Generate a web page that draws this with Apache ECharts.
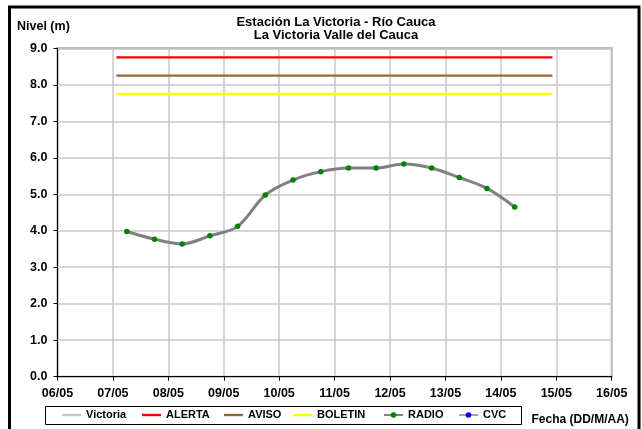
<!DOCTYPE html>
<html>
<head>
<meta charset="utf-8">
<script src="https://cdn.jsdelivr.net/npm/echarts@6/dist/echarts.min.js"></script>
<style>
html,body{margin:0;padding:0;background:#fff;}
#chart{width:642px;height:429px;}
</style>
</head>
<body>
<div id="chart"></div>
<script>
// ---- data ----
const titleLines = ["Estación La Victoria - Río Cauca", "La Victoria Valle del Cauca"];
const yAxisTitle = "Nivel (m)";
const xAxisTitle = "Fecha (DD/M/AA)";
const xTickLabels = ["06/05","07/05","08/05","09/05","10/05","11/05","12/05","13/05","14/05","15/05","16/05"];
const radioTimes = ["07/05 06:00","07/05 18:00","08/05 06:00","08/05 18:00","09/05 06:00","09/05 18:00",
  "10/05 06:00","10/05 18:00","11/05 06:00","11/05 18:00","12/05 06:00","12/05 18:00",
  "13/05 06:00","13/05 18:00","14/05 06:00"];
const radioLevels = [3.98,3.77,3.64,3.86,4.12,4.98,5.39,5.62,5.72,5.72,5.83,5.72,5.46,5.16,4.65];
const thresholdTimes = ["07/05 01:30","14/05 22:20"];
const alertaLevels = [8.75,8.75];
const avisoLevels = [8.25,8.25];
const boletinLevels = [7.75,7.75];
const yTicks = [0,1,2,3,4,5,6,7,8,9];

// convert "DD/MM HH:MM" into days after the first tick label
function dayOffset(s){
  const [d, t] = s.split(" ");
  const day = parseInt(d.split("/")[0], 10);
  const [h, m] = t.split(":").map(Number);
  const base = parseInt(xTickLabels[0].split("/")[0], 10);
  return day - base + (h + m/60)/24;
}
const pair = (times, vals) => times.map((t,i)=>[dayOffset(t), vals[i]]);

const FONT = "'Liberation Sans', Arial, sans-serif";
const chart = echarts.init(document.getElementById('chart'), null, {renderer:'canvas'});

const legendDefs = [
  {name:"Victoria", left:62, marker:false},
  {name:"ALERTA", left:142, marker:false},
  {name:"AVISO", left:224, marker:false},
  {name:"BOLETIN", left:293, marker:false},
  {name:"RADIO", left:383, marker:true},
  {name:"CVC", left:458, marker:true}
];

chart.setOption({
  backgroundColor:'#fff',
  animation:false,
  graphic:[
    {type:'rect', shape:{x:9.5,y:7,width:629.5,height:440}, style:{fill:null, stroke:'#000', lineWidth:3}, silent:true},
    {type:'rect', shape:{x:45.5,y:406.5,width:476,height:18}, style:{fill:null, stroke:'#000', lineWidth:1}, silent:true},
    {type:'text', x:336, y:22.7, style:{text:titleLines[0], textAlign:'center', textVerticalAlign:'middle',
      font:"bold 13px 'Liberation Sans', Arial", fill:'#000'}},
    {type:'text', x:336, y:35.3, style:{text:titleLines[1], textAlign:'center', textVerticalAlign:'middle',
      font:"bold 13px 'Liberation Sans', Arial", fill:'#000'}},
    {type:'text', x:17, y:27, style:{text:yAxisTitle, textVerticalAlign:'middle', font:"bold 12.5px 'Liberation Sans', Arial", fill:'#000'}},
    {type:'text', x:531.5, y:420, style:{text:xAxisTitle, textVerticalAlign:'middle', font:"bold 12px 'Liberation Sans', Arial", fill:'#000'}}
  ],
  legend: legendDefs.map(l => ({
    data: l.marker ? [l.name] : [{name:l.name, icon:'rect'}],
    left:l.left, top:409.5, padding:0, itemWidth:19, itemHeight: l.marker ? 7 : 2.4,
    textStyle:{fontFamily:FONT, fontWeight:'bold', fontSize:11, color:'#000'},
    selectedMode:false
  })),
  grid:{left:57.5, right:30.3, top:48.3, bottom:52.3, show:true, borderColor:'#a6a6a6', borderWidth:2, containLabel:false},
  xAxis:{
    type:'value', min:0, max:xTickLabels.length-1, interval:1,
    axisLine:{show:true, onZero:false, lineStyle:{color:'#000', width:1}},
    axisTick:{show:true, inside:false, length:4, lineStyle:{color:'#000'}},
    splitLine:{show:true, lineStyle:{color:'#c8c8c8', width:1.5}},
    axisLabel:{margin:10, formatter:(v)=>xTickLabels[Math.round(v)] || '',
      fontFamily:FONT, fontWeight:'bold', fontSize:12.5, color:'#000'}
  },
  yAxis:{
    type:'value', min:yTicks[0], max:yTicks[yTicks.length-1], interval:1,
    axisLine:{show:true, lineStyle:{color:'#000', width:1}},
    axisTick:{show:true, inside:false, length:4, lineStyle:{color:'#000'}},
    splitLine:{show:true, lineStyle:{color:'#c8c8c8', width:1.5}},
    axisLabel:{margin:10, formatter:(v)=>v.toFixed(1),
      fontFamily:FONT, fontWeight:'bold', fontSize:12.5, color:'#000'}
  },
  series:[
    {name:'Victoria', type:'line', data:[], symbol:'none', lineStyle:{color:'#c0c0c0', width:2}, itemStyle:{color:'#c8c8c8'}},
    {name:'ALERTA', type:'line', data:pair(thresholdTimes, alertaLevels), symbol:'none', lineStyle:{color:'#ff0000', width:2.2}, itemStyle:{color:'#ff0000'}},
    {name:'AVISO', type:'line', data:pair(thresholdTimes, avisoLevels), symbol:'none', lineStyle:{color:'#996633', width:2.2}, itemStyle:{color:'#996633'}},
    {name:'BOLETIN', type:'line', data:pair(thresholdTimes, boletinLevels), symbol:'none', lineStyle:{color:'#ffff00', width:2.2}, itemStyle:{color:'#ffff00'}},
    {name:'RADIO', type:'line', data:pair(radioTimes, radioLevels), smooth:0.35, symbol:'circle', symbolSize:5.5,
      lineStyle:{color:'#808080', width:3}, itemStyle:{color:'#008000', borderWidth:0}, z:5},
    {name:'CVC', type:'line', data:[], symbol:'circle', symbolSize:4, lineStyle:{color:'#a0a0c0', width:2}, itemStyle:{color:'#0000ff'}}
  ]
});
</script>
</body>
</html>
